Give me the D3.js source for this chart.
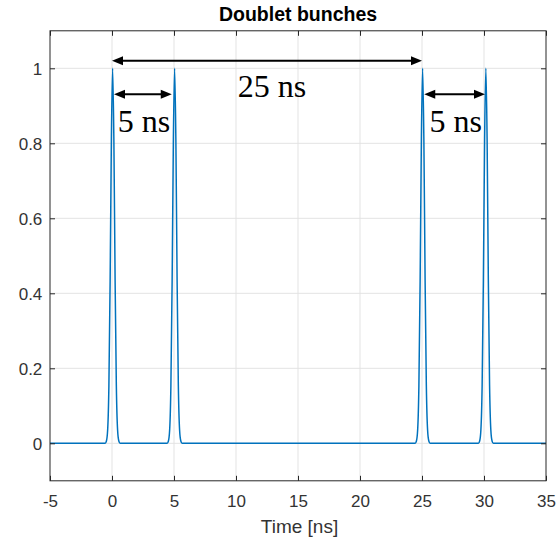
<!DOCTYPE html>
<html>
<head>
<meta charset="utf-8">
<script src="https://cdn.jsdelivr.net/npm/d3@7"></script>
<style>
  html, body { margin: 0; padding: 0; background: #fff; }
  svg { display: block; }
</style>
</head>
<body>
<svg id="chart" width="556" height="540"></svg>
<script>
// ---- data -------------------------------------------------------------
const chartTitle = "Doublet bunches";
const xLabel = "Time [ns]";

const xTicks = [-5, 0, 5, 10, 15, 20, 25, 30, 35];
const xTickLabels = ["-5", "0", "5", "10", "15", "20", "25", "30", "35"];
const yTicks = [0, 0.2, 0.4, 0.6, 0.8, 1];
const yTickLabels = ["0", "0.2", "0.4", "0.6", "0.8", "1"];

// sampled bunch signal: time [ns] and normalised amplitude
const timeNs = [
  -5,
  -0.55, -0.45, -0.35, -0.25, -0.15, -0.05, 0.05, 0.15, 0.25, 0.35, 0.45, 0.55, 0.65,
  4.45, 4.55, 4.65, 4.75, 4.85, 4.95, 5.05, 5.15, 5.25, 5.35, 5.45, 5.55, 5.65,
  24.45, 24.55, 24.65, 24.75, 24.85, 24.95, 25.05, 25.15, 25.25, 25.35, 25.45, 25.55, 25.65,
  29.55, 29.65, 29.75, 29.85, 29.95, 30.05, 30.15, 30.25, 30.35, 30.45, 30.55, 30.65, 30.75,
  35
];
const amplitude = [
  0,
  0, 0.006, 0.036, 0.154, 0.435, 0.812, 1, 0.812, 0.435, 0.154, 0.036, 0.006, 0,
  0, 0.006, 0.036, 0.154, 0.435, 0.812, 1, 0.812, 0.435, 0.154, 0.036, 0.006, 0,
  0, 0.006, 0.036, 0.154, 0.435, 0.812, 1, 0.812, 0.435, 0.154, 0.036, 0.006, 0,
  0, 0.006, 0.036, 0.154, 0.435, 0.812, 1, 0.812, 0.435, 0.154, 0.036, 0.006, 0,
  0
];

// spacing annotations (double-headed arrows)
const spanLabels = ["25 ns", "5 ns", "5 ns"];
const spanStart = [0, 0.16, 25.18];
const spanEnd = [25, 4.82, 30.08];
const spanLevel = [1.02, 0.931, 0.931];

// ---- layout -----------------------------------------------------------
const plot = { left: 50, right: 546, top: 30.8, bottom: 480.8 };
const tickFont = "'Liberation Sans', Arial, Helvetica, sans-serif";
const axisColor = "#262626";
const labelShift = [5, 1, 1];     // horizontal nudge of each span label [px]
const labelDrop = [36, 37.4, 37.4]; // baseline distance below its arrow [px]

const svg = d3.select("#chart");
svg.append("rect").attr("width", 556).attr("height", 540).attr("fill", "#fff");

const x = d3.scaleLinear().domain([-5, 35]).range([plot.left, plot.right]);
const y = d3.scaleLinear().domain([-0.1, 1.1]).range([plot.bottom, plot.top]);

// grid
const grid = svg.append("g").attr("stroke", "#e3e3e3").attr("stroke-width", 1);
grid.selectAll("line.gx").data(xTicks.slice(1, -1)).join("line")
  .attr("x1", d => x(d)).attr("x2", d => x(d))
  .attr("y1", plot.top).attr("y2", plot.bottom);
grid.selectAll("line.gy").data(yTicks).join("line")
  .attr("x1", plot.left).attr("x2", plot.right)
  .attr("y1", d => y(d)).attr("y2", d => y(d));

// signal
const points = timeNs.map((t, i) => [t, amplitude[i]]);
svg.append("defs").append("clipPath").attr("id", "plotClip")
  .append("rect")
  .attr("x", plot.left).attr("y", plot.top)
  .attr("width", plot.right - plot.left).attr("height", plot.bottom - plot.top);

svg.append("path")
  .datum(points)
  .attr("clip-path", "url(#plotClip)")
  .attr("fill", "none")
  .attr("stroke", "#0072BD")
  .attr("stroke-width", 1.5)
  .attr("stroke-linejoin", "round")
  .attr("d", d3.line().x(d => x(d[0])).y(d => y(d[1])).curve(d3.curveMonotoneX));

// axes (ticks point inward on all four sides)
function styleAxis(g) {
  g.select(".domain").remove();
  g.selectAll(".tick line").attr("stroke", axisColor);
  g.selectAll(".tick text")
    .attr("fill", "#333")
    .style("font-family", tickFont)
    .style("font-size", "17px");
}

svg.append("g")
  .attr("transform", `translate(0,${plot.bottom})`)
  .call(d3.axisBottom(x).tickValues(xTicks).tickFormat((d, i) => xTickLabels[i])
    .tickSizeInner(-5).tickSizeOuter(0).tickPadding(13.8))
  .call(styleAxis);

svg.append("g")
  .attr("transform", `translate(0,${plot.top})`)
  .call(d3.axisTop(x).tickValues(xTicks).tickFormat("")
    .tickSizeInner(-5).tickSizeOuter(0))
  .call(styleAxis);

svg.append("g")
  .attr("transform", `translate(${plot.left},0)`)
  .call(d3.axisLeft(y).tickValues(yTicks).tickFormat((d, i) => yTickLabels[i])
    .tickSizeInner(-5).tickSizeOuter(0).tickPadding(7.7))
  .call(styleAxis)
  .call(g => g.selectAll(".tick text").attr("dy", "0.38em"));

svg.append("g")
  .attr("transform", `translate(${plot.right},0)`)
  .call(d3.axisRight(y).tickValues(yTicks).tickFormat("")
    .tickSizeInner(-5).tickSizeOuter(0))
  .call(styleAxis);

// box
svg.append("rect")
  .attr("x", plot.left).attr("y", plot.top)
  .attr("width", plot.right - plot.left).attr("height", plot.bottom - plot.top)
  .attr("fill", "none").attr("stroke", axisColor).attr("stroke-width", 1);

// title and axis label
svg.append("text")
  .attr("x", (plot.left + plot.right) / 2).attr("y", 21)
  .attr("text-anchor", "middle")
  .style("font-family", tickFont).style("font-size", "19.5px").style("font-weight", "bold")
  .attr("fill", "#000")
  .text(chartTitle);

svg.append("text")
  .attr("x", 299.5).attr("y", 533)
  .attr("text-anchor", "middle")
  .style("font-family", tickFont).style("font-size", "19px")
  .attr("fill", "#333")
  .text(xLabel);

// spacing arrows
const headLen = 11, headHalf = 4.5;
const ann = svg.append("g");
spanLabels.forEach((label, i) => {
  const x0 = x(spanStart[i]), x1 = x(spanEnd[i]), yy = y(spanLevel[i]);
  ann.append("line")
    .attr("x1", x0 + headLen - 2).attr("x2", x1 - headLen + 2)
    .attr("y1", yy).attr("y2", yy)
    .attr("stroke", "#000").attr("stroke-width", 2);
  ann.append("path")
    .attr("d", `M${x0},${yy} L${x0 + headLen},${yy - headHalf} L${x0 + headLen},${yy + headHalf} Z`)
    .attr("fill", "#000");
  ann.append("path")
    .attr("d", `M${x1},${yy} L${x1 - headLen},${yy - headHalf} L${x1 - headLen},${yy + headHalf} Z`)
    .attr("fill", "#000");
  ann.append("text")
    .attr("x", (x0 + x1) / 2 + labelShift[i])
    .attr("y", yy + labelDrop[i])
    .attr("text-anchor", "middle")
    .style("font-family", "'Liberation Serif', 'Times New Roman', serif")
    .style("font-size", "32px")
    .attr("fill", "#000")
    .text(label);
});
</script>
</body>
</html>
